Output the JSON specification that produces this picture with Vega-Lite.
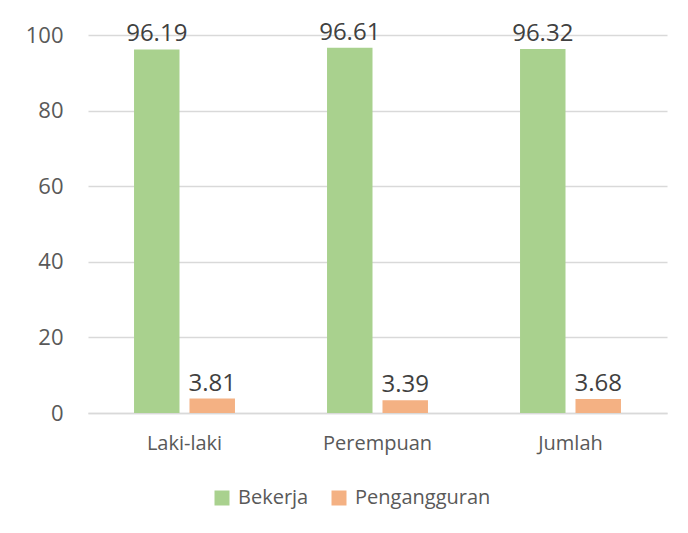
{
  "$schema": "https://vega.github.io/schema/vega-lite/v6.json",
  "width": 579,
  "height": 378,
  "autosize": {"type": "none"},
  "padding": {"left": 88, "top": 35, "right": 21, "bottom": 120},
  "background": "white",
  "config": {
    "view": {"stroke": null},
    "font": "Open Sans"
  },
  "data": {
    "values": [
      {"kategori": "Laki-laki", "status": "Bekerja", "nilai": 96.19},
      {"kategori": "Laki-laki", "status": "Pengangguran", "nilai": 3.81},
      {"kategori": "Perempuan", "status": "Bekerja", "nilai": 96.61},
      {"kategori": "Perempuan", "status": "Pengangguran", "nilai": 3.39},
      {"kategori": "Jumlah", "status": "Bekerja", "nilai": 96.32},
      {"kategori": "Jumlah", "status": "Pengangguran", "nilai": 3.68}
    ]
  },
  "encoding": {
    "x": {
      "field": "kategori", "type": "nominal", "sort": ["Laki-laki", "Perempuan", "Jumlah"],
      "scale": {"paddingInner": 0.477, "paddingOuter": 0.2385},
      "axis": {"title": null, "labelAngle": 0, "ticks": false, "domainColor": "#d9d9d9", "domainWidth": 1.5, "labelPadding": 20, "labelFont": "Open Sans", "labelFontSize": 20, "labelColor": "#595959"}
    },
    "xOffset": {"field": "status", "type": "nominal", "scale": {"paddingInner": 0.18, "paddingOuter": 0}},
    "y": {
      "field": "nilai", "type": "quantitative",
      "scale": {"domain": [0, 100]},
      "axis": {"title": null, "values": [0, 20, 40, 60, 80, 100], "ticks": false, "domain": false, "gridColor": "#d9d9d9", "gridWidth": 1.5, "labelPadding": 25, "labelFont": "Open Sans", "labelFontSize": 22, "labelColor": "#595959"}
    }
  },
  "layer": [
    {
      "mark": {"type": "bar"},
      "encoding": {
        "color": {
          "field": "status", "type": "nominal",
          "scale": {"domain": ["Bekerja", "Pengangguran"], "range": ["#A9D18E", "#F4B183"]},
          "legend": {"title": null, "orient": "none", "legendX": 124, "legendY": 453, "direction": "horizontal", "symbolType": "square", "symbolSize": 225, "symbolStrokeWidth": 0, "columnPadding": 20, "labelOffset": 6, "labelFont": "Open Sans", "labelFontSize": 20, "labelColor": "#595959"}
        }
      }
    },
    {
      "mark": {"type": "text", "baseline": "alphabetic", "dy": -8, "fontSize": 24, "color": "#404040", "font": "Open Sans"},
      "encoding": {"text": {"field": "nilai", "type": "quantitative", "format": ".2f"}}
    }
  ]
}
